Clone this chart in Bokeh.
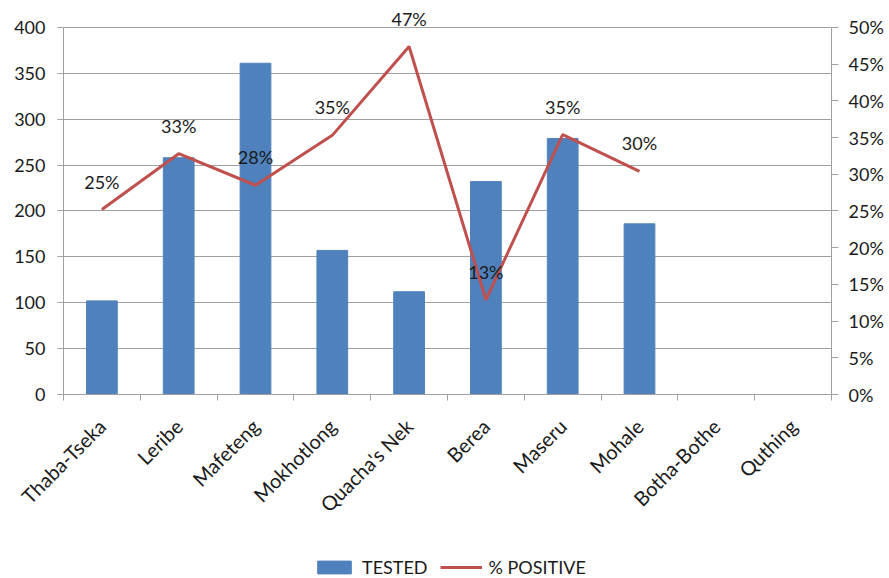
import numpy as np
from math import pi

from bokeh.plotting import figure
from bokeh.layouts import column
from bokeh.models import (Range1d, LinearAxis, FixedTicker, NumeralTickFormatter,
                          ColumnDataSource, Legend, LegendItem, LabelSet)
from bokeh.core.properties import value
from bokeh.embed import file_html
from bokeh.resources import INLINE

# District data: number tested and share positive
districts = ["Thaba-Tseka", "Leribe", "Mafeteng", "Mokhotlong", "Quacha's Nek",
             "Berea", "Maseru", "Mohale", "Botha-Bothe", "Quthing"]
tested = [102, 258, 361, 157, 112, 232, 279, 186, None, None]
positive = [0.252, 0.328, 0.285, 0.353, 0.474, 0.129, 0.354, 0.304, None, None]

count_ticks = [0, 50, 100, 150, 200, 250, 300, 350, 400]
pct_ticks = [0, 0.05, 0.10, 0.15, 0.20, 0.25, 0.30, 0.35, 0.40, 0.45, 0.50]

FONT = "Lato"
TEXT = "#1a1a1a"
GRID = "#a0a0a0"
BAR = "#4f81bd"
LINE = "#c0504d"

n = len(districts)
centers = [i + 0.5 for i in range(n)]
bounds = list(range(n + 1))

# headroom above the top tick so the value labels stay inside the frame
count_max, count_view = 400, 425
pct_max = 0.5
pct_view = pct_max * count_view / count_max

src = ColumnDataSource(dict(
    x=centers,
    tested=[np.nan if v is None else v for v in tested],
    positive=[np.nan if v is None else v for v in positive],
    label=["" if v is None else f"{round(v * 100)}%" for v in positive],
))

p = figure(width=889, height=555, output_backend="svg", toolbar_location=None,
           x_range=Range1d(0, n), y_range=Range1d(0, count_view),
           min_border_left=63, min_border_right=58, min_border_top=4,
           min_border_bottom=161)
p.outline_line_color = None
p.background_fill_color = "white"
p.border_fill_color = "white"

p.extra_y_ranges = {"pct": Range1d(0, pct_view)}

# Bars (left axis) and percentage line (right axis)
bars = p.vbar(x="x", top="tested", width=0.4, source=src,
              fill_color=BAR, line_color=BAR)
line = p.line(x="x", y="positive", source=src, y_range_name="pct",
              line_color=LINE, line_width=3)
labels = LabelSet(x="x", y="positive", text="label", source=src,
                  y_range_name="pct", text_align="center",
                  text_baseline="middle", y_offset=28,
                  text_font=value(FONT), text_font_size=value("18px"),
                  text_color=TEXT)
p.add_layout(labels)

# Left axis
yax = p.yaxis[0]
yax.ticker = FixedTicker(ticks=count_ticks)
yax.bounds = (0, count_max)
yax.axis_line_color = GRID
yax.major_tick_line_color = GRID
yax.major_tick_out = 6
yax.major_tick_in = 0
yax.minor_tick_line_color = None
yax.major_label_standoff = 12
yax.major_label_text_font = FONT
yax.major_label_text_font_size = "18px"
yax.major_label_text_color = TEXT

# Right axis
rax = LinearAxis(y_range_name="pct", ticker=FixedTicker(ticks=pct_ticks),
                 formatter=NumeralTickFormatter(format="0%"), bounds=(0, pct_max))
rax.axis_line_color = GRID
rax.major_tick_line_color = GRID
rax.major_tick_out = 7
rax.major_tick_in = 0
rax.minor_tick_line_color = None
rax.major_label_standoff = 10
rax.major_label_text_font = FONT
rax.major_label_text_font_size = "18px"
rax.major_label_text_color = TEXT
p.add_layout(rax, "right")

# Category axis: labels at centers, tick marks at category boundaries
xax = p.xaxis[0]
xax.ticker = FixedTicker(ticks=centers, minor_ticks=bounds)
xax.major_label_overrides = {c: d for c, d in zip(centers, districts)}
xax.major_tick_line_color = None
xax.minor_tick_line_color = GRID
xax.minor_tick_out = 6
xax.minor_tick_in = 0
xax.axis_line_color = GRID
xax.major_label_orientation = pi / 4
xax.major_label_standoff = 22
xax.major_label_text_font = FONT
xax.major_label_text_font_size = "20px"
xax.major_label_text_color = TEXT

p.xgrid.grid_line_color = None
p.ygrid.ticker = FixedTicker(ticks=count_ticks)
p.ygrid.grid_line_color = GRID

# Legend strip below the chart, with its own key glyphs (no visible data)
key = figure(width=889, height=23, output_backend="svg", toolbar_location=None,
             x_axis_type=None, y_axis_type=None, min_border=0,
             x_range=Range1d(0, 1), y_range=Range1d(0, 1))
key.outline_line_color = None
key.grid.grid_line_color = None
key_bar = key.vbar(x=[np.nan], top=[np.nan], width=0.4,
                   fill_color=BAR, line_color=BAR)
key_line = key.line(x=[np.nan], y=[np.nan], line_color=LINE, line_width=3)
legend = Legend(items=[LegendItem(label="TESTED", renderers=[key_bar]),
                       LegendItem(label="% POSITIVE", renderers=[key_line])],
                orientation="horizontal", location=(250, 0),
                border_line_color=None, background_fill_alpha=0,
                padding=0, margin=0, spacing=12, glyph_width=42,
                glyph_height=16, label_standoff=7,
                label_text_font=FONT, label_text_font_size="18px",
                label_text_color=TEXT)
key.add_layout(legend)

open("out.html", "w").write(file_html(column(p, key, spacing=0), INLINE))
